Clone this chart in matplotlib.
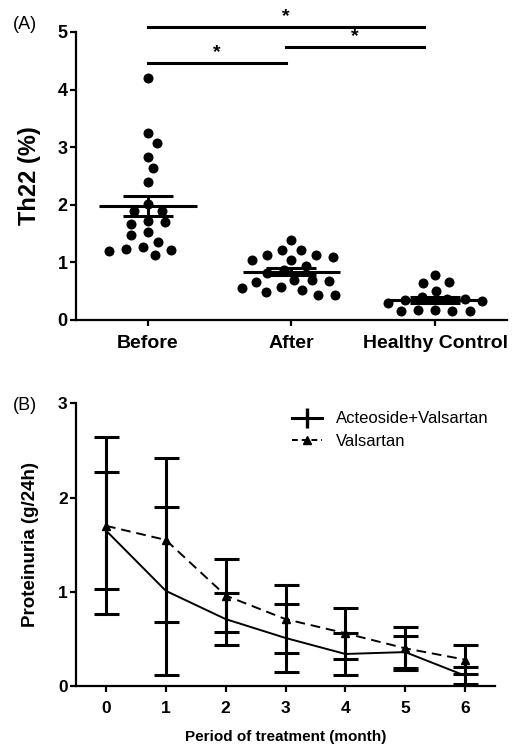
import matplotlib

matplotlib.use("Agg")
import matplotlib.pyplot as plt
from matplotlib.lines import Line2D
import numpy as np

plt.rcParams["font.family"] = ["Liberation Sans", "DejaVu Sans"]

# panel A: Th22 (%) per subject
groups = ["Before", "After", "Healthy Control"]
before = [4.20, 3.25, 3.08, 2.83, 2.64, 2.39, 2.02, 1.90, 1.90, 1.70, 1.67, 1.72,
          1.52, 1.47, 1.36, 1.27, 1.22, 1.20, 1.23, 1.13]
after = [1.39, 1.22, 1.13, 1.09, 1.13, 1.22, 1.04, 1.04, 0.93, 0.81, 0.86, 0.70,
         0.66, 0.70, 0.68, 0.55, 0.48, 0.43, 0.44, 0.52, 0.58]
healthy = [0.78, 0.64, 0.66, 0.51, 0.40, 0.36, 0.36, 0.35, 0.33, 0.30, 0.17, 0.16,
           0.15, 0.16, 0.17]
group_mean = [1.98, 0.84, 0.35]
group_sem = [0.18, 0.065, 0.05]
# significance comparisons (from, to, height)
sig_pairs = [(0, 0.96, 4.46), (0.96, 1.92, 4.74), (0, 1.92, 5.08)]

# panel B: proteinuria over time
months = [0, 1, 2, 3, 4, 5, 6]
act_mean = [1.65, 1.01, 0.71, 0.51, 0.34, 0.36, 0.11]
act_err = [0.62, 0.89, 0.28, 0.36, 0.22, 0.17, 0.09]
val_mean = [1.70, 1.55, 0.96, 0.71, 0.56, 0.40, 0.28]
val_err = [0.94, 0.87, 0.39, 0.36, 0.27, 0.23, 0.15]


def swarm_offsets(values, gap_x, gap_y):
    # simple beeswarm: collision if (dx/gap_x)^2 + (dy/gap_y)^2 < 1
    values = np.asarray(values, dtype=float)
    done = []
    offsets = np.zeros(len(values))
    for i in np.argsort(values)[::-1]:
        v = values[i]
        cands = [0.0]
        for xj, yj in done:
            dy = (v - yj) / gap_y
            if abs(dy) < 1:
                w = gap_x * np.sqrt(1 - dy * dy)
                cands += [xj - w, xj + w]
        cands.sort(key=lambda c: (round(abs(c), 6), -c))
        for c in cands:
            ok = all(((c - xj) / gap_x) ** 2 + ((v - yj) / gap_y) ** 2 >= 0.999
                     for xj, yj in done)
            if ok:
                offsets[i] = c
                done.append((c, v))
                break
    return offsets


fig = plt.figure(figsize=(5.21, 7.49), dpi=100)

# ---- panel A
ax = fig.add_axes([0.146, 0.5728, 0.827, 0.3845])
for i, vals in enumerate([before, after, healthy]):
    xs = i + swarm_offsets(vals, 0.12, 0.2)
    ax.scatter(xs, vals, s=52, color="black", zorder=3, linewidths=0)
    ax.hlines(group_mean[i], i - 0.34, i + 0.34, color="black", lw=2.2, zorder=4)
    ax.errorbar(i, group_mean[i], yerr=group_sem[i], fmt="none", ecolor="black",
                elinewidth=2.2, capsize=18, capthick=2.2, zorder=4)

for x0, x1, h in sig_pairs:
    ax.plot([x0, x1], [h, h], color="black", lw=2.2, clip_on=False)
    ax.text((x0 + x1) / 2, h + 0.04, "*", ha="center", va="bottom",
            fontsize=14, fontweight="bold", clip_on=False)

ax.set_xlim(-0.5, 2.5)
ax.set_ylim(0, 5)
ax.set_xticks(range(3), groups, fontsize=14, fontweight="bold")
ax.set_yticks(range(6))
ax.set_ylabel("Th22 (%)", fontsize=17, fontweight="bold", labelpad=12)
for lab in ax.get_yticklabels():
    lab.set_fontweight("bold")
    lab.set_fontsize(13)
for side in ["top", "right"]:
    ax.spines[side].set_visible(False)
for side in ["left", "bottom"]:
    ax.spines[side].set_linewidth(1.6)
ax.tick_params(width=1.6, length=4, direction="out", pad=2)
ax.tick_params(axis="x", pad=7)
fig.text(0.025, 0.967, "(A)", fontsize=13, va="center")

# ---- panel B
bx = fig.add_axes([0.146, 0.0841, 0.804, 0.3774])
bx.errorbar(months, act_mean, yerr=act_err, color="black", lw=1.4, ls="-",
            ecolor="black", elinewidth=2.2, capsize=9, capthick=2.2, zorder=3)
bx.errorbar(months, val_mean, yerr=val_err, color="black", lw=1.4, ls=(0, (5, 3)),
            marker="^", markersize=6, ecolor="black", elinewidth=2.2, capsize=9,
            capthick=2.2, zorder=3)
bx.set_xlim(-0.5, 6.5)
bx.set_ylim(0, 3)
bx.set_xticks(months)
bx.set_yticks([0, 1, 2, 3])
for lab in bx.get_xticklabels() + bx.get_yticklabels():
    lab.set_fontweight("bold")
    lab.set_fontsize(12.5)
bx.set_xlabel("Period of treatment (month)", fontsize=11, fontweight="bold", labelpad=10)
bx.set_ylabel("Proteinuria (g/24h)", fontsize=13.5, fontweight="bold", labelpad=14)
for side in ["top", "right"]:
    bx.spines[side].set_visible(False)
for side in ["left", "bottom"]:
    bx.spines[side].set_linewidth(1.6)
bx.tick_params(width=1.6, length=4, direction="out", pad=2)
bx.tick_params(axis="x", pad=7)
handles = [
    Line2D([], [], color="black", lw=2.2, marker="|", markersize=14, mew=2.4),
    Line2D([], [], color="black", lw=1.4, ls=(0, (3, 2)), marker="^", markersize=6),
]
bx.legend(handles, ["Acteoside+Valsartan", "Valsartan"], loc="upper left",
          bbox_to_anchor=(0.50, 0.995), frameon=False, fontsize=12,
          handlelength=1.8, handletextpad=0.8, labelspacing=0.45, borderaxespad=0)
fig.text(0.025, 0.459, "(B)", fontsize=13, va="center")

fig.savefig("out.png", dpi=100)
